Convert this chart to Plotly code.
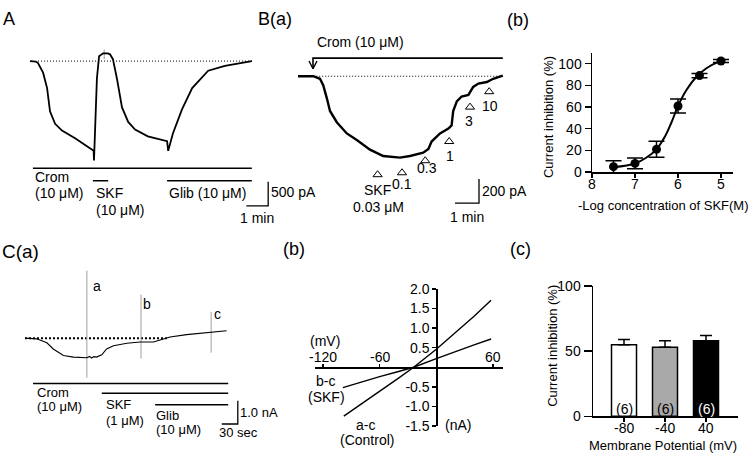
import plotly.graph_objects as go

W, H = 756, 461
FONT = "Liberation Sans, Arial, Helvetica, sans-serif"

# ---------------- Panel A : whole-cell current (time s, current pA) ----------------
a_time = [0, 16, 22, 36, 47, 55, 69, 88, 124, 170, 175, 176, 179, 184, 190, 201, 214, 220, 228, 239,
          253, 270, 289, 324, 377, 380, 393, 418, 446, 473, 490, 536, 610]
a_current = [0, -10, -40, -240, -560, -1040, -1300, -1440, -1600, -1840, -1860, -2060, -1300, -360, 100,
             160, 160, 140, 40, -360, -960, -1260, -1420, -1560, -1660, -1860, -1500, -1000, -560, -340,
             -200, -100, 0]
a_baseline_time = [22, 613]
a_spike_time = [204, 204]
a_spike_current = [40, 240]
a_drug_on = [8, 173, 377]
a_drug_off = [610, 215, 610]
a_drug_level = [-2220, -2480, -2480]
a_scale_s = 60
a_scale_pa = 500

# ---------------- Panel B(a) : SKF concentration steps ----------------
b_time = [0, 38, 55, 63, 72, 80, 97, 122, 147, 180, 213, 255, 280, 313, 326, 334, 355, 376, 384, 388,
          397, 409, 426, 438, 451, 472, 488, 505, 512]
b_current = [0, 0, -21, -74, -181, -288, -381, -474, -528, -608, -661, -674, -661, -634, -602, -541,
             -474, -434, -408, -288, -208, -168, -154, -88, -61, -48, -21, 0, 5]
b_baseline_time = [38, 510]
b_crom_on, b_crom_off, b_crom_level = 37.5, 512, 150
b_step_labels = ["SKF", "0.1", "0.3", "1", "3", "10"]
b_step_time = [199, 260, 318, 378, 430, 478]
b_step_current = [-816, -800, -700, -541, -256, -128]
b_scale_s = 60
b_scale_pa = 200

# ---------------- Panel B(b) : concentration-response ----------------
bb_logc = [7.5, 7.0, 6.5, 6.0, 5.5, 5.0]
bb_inhib = [5, 8, 21, 61, 89, 102.5]
bb_sem = [5.5, 5, 7.4, 6.4, 2, 1.3]
bb_fit_x = [7.5, 7.0, 6.75, 6.5, 6.3, 6.15, 6.0, 5.8, 5.57, 5.33, 5.1, 4.98]
bb_fit_y = [4.5, 8, 13, 21, 33, 46, 61, 76, 88, 96, 101, 102.5]
bb_xticks = [8, 7, 6, 5]

# ---------------- Panel C(a) : ramp recording (time s, current nA) ----------------
c_time = [0, 22, 41, 53, 72, 91, 116, 121, 125, 129, 134, 144, 153, 166, 191, 216, 241, 253, 272,
          303, 341, 378]
c_current = [0, -0.03, -0.20, -0.47, -0.75, -0.82, -0.85, -0.79, -0.86, -0.80, -0.82, -0.72, -0.47,
             -0.33, -0.22, -0.17, -0.17, -0.08, 0.05, 0.15, 0.25, 0.32]
c_baseline_time = [0, 266]
c_ramp_labels = ["a", "b", "c"]
c_ramp_time = [116, 217.5, 349]
c_ramp_top = [2.92, 1.88, 1.13]
c_ramp_bottom = [-1.71, -0.88, -0.63]
c_drug_on = [15, 144, 244]
c_drug_off = [381, 381, 381]
c_drug_level = [-1.96, -2.38, -2.88]
c_scale_s = 30
c_scale_na = 1.0

# ---------------- Panel C(b) : I-V relations ----------------
iv_v_control = [-98, -80, -60, -40, -24, 0, 20, 40, 58]
iv_i_control = [-1.25, -0.95, -0.63, -0.28, 0, 0.46, 0.88, 1.30, 1.71]
iv_v_skf = [-99, -80, -60, -40, -24, 0, 20, 40, 58]
iv_i_skf = [-0.52, -0.38, -0.24, -0.11, 0, 0.22, 0.40, 0.57, 0.72]
iv_v_ticks = [-120, -60, 60]

# ---------------- Panel C(c) : inhibition vs potential ----------------
cc_potential = ["-80", "-40", "40"]
cc_inhib = [55, 53, 58]
cc_err = [4, 5, 4]
cc_n = ["(6)", "(6)", "(6)"]
cc_colors = ["white", "#a9a9a9", "black"]
cc_ncolors = ["black", "black", "white"]


# ================= helpers =================
def xdom(p0, p1):
    return [p0 / W, p1 / W]


def ydom(top, bot):
    return [1 - bot / H, 1 - top / H]


fig = go.Figure()


def line(x, y, ax, color="black", width=1.5, dash=None):
    fig.add_trace(go.Scatter(x=x, y=y, xaxis=ax[0], yaxis=ax[1], mode="lines",
                             line=dict(color=color, width=width, dash=dash),
                             hoverinfo="skip", showlegend=False))


A = ("x", "y")
BA = ("x2", "y2")
CA = ("x4", "y4")
CB = ("x5", "y5")

# ---- A ----
line(a_baseline_time, [0, 0], A, width=1, dash="1px,2px")
line(a_spike_time, a_spike_current, A, color="#9a9a9a", width=1)
line(a_time, a_current, A, width=1.8)
for on, off, lv in zip(a_drug_on, a_drug_off, a_drug_level):
    line([on, off], [lv, lv], A, width=1.6)
ac_t, ac_i = 655, -3000
line([ac_t - a_scale_s, ac_t, ac_t], [ac_i, ac_i, ac_i + a_scale_pa], A, width=1.3)

# ---- B(a) ----
line(b_baseline_time, [0, 0], BA, width=1, dash="1px,2px")
line(b_time, b_current, BA, width=2.4)
line([b_crom_on, b_crom_on, b_crom_off], [62, b_crom_level, b_crom_level], BA, width=1.6)
line([b_crom_on - 10, b_crom_on, b_crom_on + 10], [126, 62, 126], BA, width=1.4)
fig.add_trace(go.Scatter(x=b_step_time, y=b_step_current, xaxis="x2", yaxis="y2", mode="markers",
                         marker=dict(symbol="triangle-up-open", size=8, color="black",
                                     line=dict(width=1)),
                         hoverinfo="skip", showlegend=False))
bc_t, bc_i = 452.5, -1052
line([bc_t - b_scale_s, bc_t, bc_t], [bc_i, bc_i, bc_i + b_scale_pa], BA, width=1.3)

# ---- B(b) ----
fig.add_trace(go.Scatter(x=bb_fit_x, y=bb_fit_y, xaxis="x3", yaxis="y3", mode="lines",
                         line=dict(color="black", width=2, shape="spline"),
                         hoverinfo="skip", showlegend=False, cliponaxis=False))
fig.add_trace(go.Scatter(x=bb_logc, y=bb_inhib, xaxis="x3", yaxis="y3", mode="markers",
                         marker=dict(color="black", size=9),
                         error_y=dict(type="data", array=bb_sem, color="black", thickness=1.5, width=8),
                         hoverinfo="skip", showlegend=False, cliponaxis=False))

# ---- C(a) ----
line(c_baseline_time, [0, 0], CA, width=2, dash="2px,2px")
for t, top, bot in zip(c_ramp_time, c_ramp_top, c_ramp_bottom):
    line([t, t], [bot, top], CA, color="#a0a0a0", width=1)
line(c_time, c_current, CA, width=1.1)
for on, off, lv in zip(c_drug_on, c_drug_off, c_drug_level):
    line([on, off], [lv, lv], CA, width=1.6)
cc_t, cc_i = 399, -3.71
line([cc_t - c_scale_s, cc_t, cc_t], [cc_i, cc_i, cc_i + c_scale_na], CA, width=1.3)

# ---- C(b) ----
line(iv_v_control, iv_i_control, CB, width=1.4)
line(iv_v_skf, iv_i_skf, CB, width=1.4)

# ---- C(c) ----
fig.add_trace(go.Bar(x=[0, 1, 2], y=cc_inhib, width=0.61, xaxis="x6", yaxis="y6",
                     marker=dict(color=cc_colors, line=dict(color="black", width=1.5)),
                     error_y=dict(type="data", array=cc_err, arrayminus=[0, 0, 0], symmetric=False,
                                  color="black", thickness=1.5, width=6),
                     hoverinfo="skip", showlegend=False))

# ================= axes =================
BB_X0, BB_PX_PER_UNIT = 592, 43        # B(b) x-axis: pixel of log 8, pixels per log unit
CC_X0, CC_PX_PER_BAR = 624, 41         # C(c) x-axis: pixel of first bar centre, bar spacing

hidden = dict(visible=False, fixedrange=True)
common = dict(showgrid=False, zeroline=False, showline=True, linecolor="black", linewidth=1.5,
              ticks="outside", tickcolor="black", tickwidth=1.5,
              tickfont=dict(family=FONT, size=14, color="black"), fixedrange=True)

layout = dict(
    width=W, height=H, autosize=False, margin=dict(l=0, r=0, t=0, b=0),
    paper_bgcolor="white", plot_bgcolor="rgba(0,0,0,0)", showlegend=False,
    xaxis=dict(hidden, domain=xdom(20, 320), range=[(20 - 30) * 2.75, (320 - 30) * 2.75], anchor="y"),
    yaxis=dict(hidden, domain=ydom(25, 225), range=[-(225 - 55) * 20, -(25 - 55) * 20], anchor="x"),
    xaxis2=dict(hidden, domain=xdom(290, 525), range=[(290 - 298) * 2.5, (525 - 298) * 2.5], anchor="y2"),
    yaxis2=dict(hidden, domain=ydom(25, 225), range=[-(225 - 70.7) * 8, -(25 - 70.7) * 8], anchor="x2"),
    xaxis3=dict(common, domain=xdom(BB_X0, 733), range=[8, 8 - (733 - BB_X0) / BB_PX_PER_UNIT],
                tickvals=bb_xticks, ticklen=4, anchor="y3", showticklabels=False),
    yaxis3=dict(common, domain=ydom(47, 170), range=[0, 123 / 1.123], tickvals=[0, 20, 40, 60, 80, 100],
                ticklen=6, anchor="x3"),
    xaxis4=dict(hidden, domain=xdom(20, 300), range=[(20 - 25) * 1.875, (300 - 25) * 1.875], anchor="y4"),
    yaxis4=dict(hidden, domain=ydom(262, 455), range=[-(455 - 342) * 0.0417, -(262 - 342) * 0.0417],
                anchor="x4"),
    xaxis5=dict(common, domain=xdom(315, 503), range=[(315 - 436.3) / 0.944, (503 - 436.3) / 0.944],
                anchor="free", position=1 - 372 / H, side="top", tickvals=iv_v_ticks, ticklen=3,
                showticklabels=False),
    yaxis5=dict(common, domain=ydom(291, 433), range=[-1.5, 2.0], anchor="free", position=436.3 / W,
                tickvals=[-1.5, -1.0, -0.5, 0.5, 1.0, 1.5, 2.0],
                ticktext=["-1.5", "-1.0", "-0.5", "0.5", "1.0", "1.5", "2.0"], ticklen=4),
    xaxis6=dict(common, domain=xdom(593, 738),
                range=[(593 - CC_X0) / CC_PX_PER_BAR, (738 - CC_X0) / CC_PX_PER_BAR], tickvals=[0, 1, 2],
                ticklen=4, anchor="y6", showticklabels=False),
    yaxis6=dict(common, domain=ydom(288, 423), range=[0, 100], tickvals=[0, 50, 100], ticklen=8,
                anchor="x6"),
)
fig.update_layout(**layout)


# ================= text =================
def label(text, x, y, size=14, xanchor="center", color="black", angle=0):
    fig.add_annotation(text=text, x=x / W, y=1 - y / H, xref="paper", yref="paper", showarrow=False,
                       xanchor=xanchor, yanchor="middle", textangle=angle, borderpad=0,
                       font=dict(family=FONT, size=size, color=color))


# panel letters
label("A", 2, 11, 18, "left")
label("B(a)", 257, 11, 18, "left")
label("(b)", 506, 12, 18, "left")
label("C(a)", 1, 252, 19, "left")
label("(b)", 282, 250, 18, "left")
label("(c)", 509, 250, 18, "left")

# A
label("Crom", 34, 175, xanchor="left")
label("(10 μM)", 34, 192, xanchor="left")
label("SKF", 95, 192, xanchor="left")
label("(10 μM)", 95, 209, xanchor="left")
label("Glib (10 μM)", 168, 192, xanchor="left")
label("500 pA", 270, 191, xanchor="left")
label("1 min", 257, 218)

# B(a)
label("Crom (10 μM)", 316, 35, xanchor="left")
for txt, x, y in zip(b_step_labels, [377, 402, 427, 450, 469, 490], [189, 182, 166, 153, 117, 102]):
    label(txt, x, y)
label("0.03 μM", 378, 206)
label("200 pA", 481, 190, xanchor="left")
label("1 min", 467, 216)

# B(b)
for v in bb_xticks:
    label(str(v), BB_X0 + (8 - v) * BB_PX_PER_UNIT, 182)
label("Current inhibition (%)", 548, 113, 13, angle=-90)
label("-Log concentration of SKF(M)", 663, 205, 13)

# C(a)
for txt, x, y in zip(c_ramp_labels, [97, 147, 217], [288, 307, 317]):
    label(txt, x, y)
label("Crom", 36, 398, 13, xanchor="left")
label("(10 μM)", 36, 413, 13, xanchor="left")
label("SKF", 105, 411, 13, xanchor="left")
label("(1 μM)", 105, 427, 13, xanchor="left")
label("Glib", 155, 422, 13, xanchor="left")
label("(10 μM)", 155, 437, 13, xanchor="left")
label("1.0 nA", 239, 419, 13, xanchor="left")
label("30 sec", 238, 440, 13)

# C(b)
for v in iv_v_ticks:
    fig.add_annotation(text=str(v), x=v, y=0.25, xref="x5", yref="y5", showarrow=False,
                       yanchor="middle", borderpad=0, font=dict(family=FONT, size=14, color="black"))
label("(mV)", 325, 345)
label("(nA)", 444, 432, xanchor="left")
label("b-c", 325, 386)
label("(SKF)", 326, 403)
label("a-c", 365, 432)
label("(Control)", 367, 448)

# C(c)
for i, txt in enumerate(cc_potential):
    label(txt, CC_X0 + i * CC_PX_PER_BAR, 435)
label("Current inhibition (%)", 553, 350, 13, angle=-90)
label("Membrane Potential (mV)", 663, 453, 13)
for i, (txt, col) in enumerate(zip(cc_n, cc_ncolors)):
    fig.add_annotation(text=txt, x=i, y=6, xref="x6", yref="y6", showarrow=False, borderpad=0,
                       font=dict(family=FONT, size=14, color=col))

fig.write_html("out.html", config={"displayModeBar": False, "staticPlot": True},
               post_script="document.body.style.margin='0';document.body.style.overflow='hidden';")
